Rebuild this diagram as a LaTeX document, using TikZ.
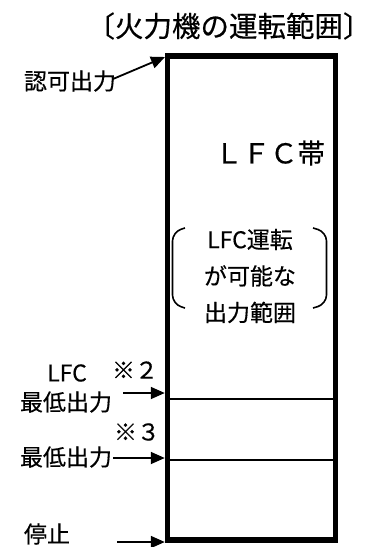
\documentclass[tikz,border=0pt]{standalone}
\usepackage{fontspec}
\setmainfont{Noto Sans CJK JP}[FakeBold=0.4]
\usetikzlibrary{arrows.meta}
\tikzset{
  lbl/.style={inner sep=0pt, font=\fontsize{23}{27}\selectfont},
  arr/.style={line width=1.8pt, -{Triangle[length=14pt,width=12pt]}},
  level/.style={line width=2pt},
}
\begin{document}
\begin{tikzpicture}[x=1pt,y=-1pt]
\useasboundingbox (0,0) rectangle (373,547);
\fill[white] (0,0) rectangle (373,547);
\node[draw, line width=5.5pt, minimum width=168pt, minimum height=484pt, inner sep=0pt] (box) at (251.5,298) {};
\node[inner sep=0pt, font=\fontsize{28.5}{32}\selectfont] (title) at (229,26) {〔火力機の運転範囲〕};
\node[inner sep=0pt, font=\fontsize{27.5}{30}\selectfont] (band) at (270,153) {ＬＦＣ帯};
\node[lbl, align=center, font=\fontsize{23}{36.5}\selectfont] (range) at (250,276) {LFC運転\\が可能な\\出力範囲};
\draw[line width=1.6pt, rounded corners=9pt] (185,228) -- (172.5,232) -- (172.5,304) -- (185,308);
\draw[line width=1.6pt, rounded corners=9pt] (313,228) -- (326.5,232) -- (326.5,304) -- (313,308);
\node[lbl] (nin) at (70,81) {認可出力};
\coordinate (ninS) at (113,79);
\coordinate (ninT) at (165,57);
\draw[arr] (ninS) -- (ninT);
\node[lbl] (lfc) at (67,373) {LFC};
\node[lbl] (k2) at (135,370) {※２};
\node[lbl] (min1) at (66,402) {最低出力};
\coordinate (m1S) at (123,393);
\coordinate (m1T) at (box.west |- m1S);
\draw[arr] (m1S) -- (m1T);
\node[lbl] (k3) at (137,432) {※３};
\node[lbl] (min2) at (66,457) {最低出力};
\coordinate (m2S) at (113,458);
\coordinate (m2T) at (box.west |- m2S);
\draw[arr] (m2S) -- (m2T);
\node[lbl] (stop) at (47,534) {停止};
\coordinate (sS) at (117,542);
\coordinate (sT) at (box.west |- sS);
\draw[arr] (sS) -- (sT);
\coordinate (l1) at (box.west |- 0,399);
\coordinate (r1) at (box.east |- 0,399);
\draw[level] (l1) -- (r1);
\coordinate (l2) at (box.west |- 0,460);
\coordinate (r2) at (box.east |- 0,460);
\draw[level] (l2) -- (r2);
\end{tikzpicture}
\end{document}
